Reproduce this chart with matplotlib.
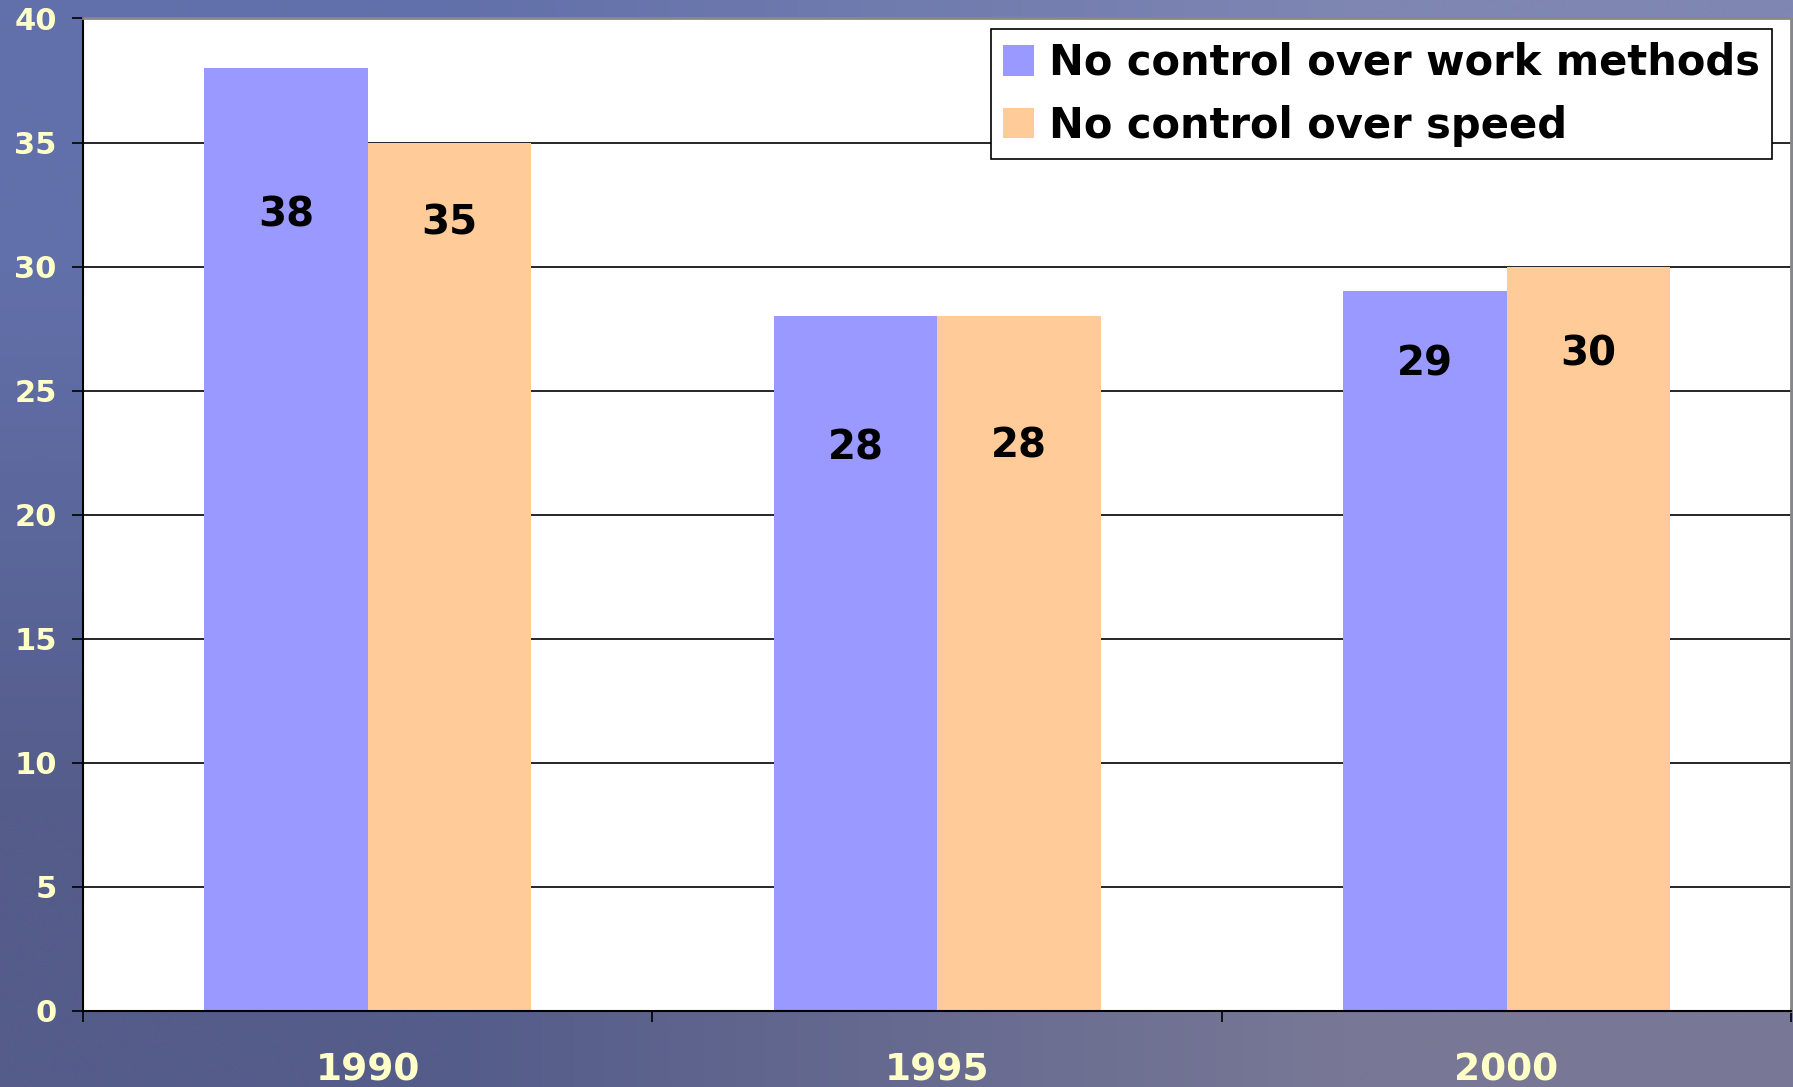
import numpy as np
import matplotlib
matplotlib.use("Agg")
import matplotlib.pyplot as plt

years = ["1990", "1995", "2000"]
work_methods = [38, 28, 29]
speed = [35, 28, 30]
series_names = ["No control over work methods", "No control over speed"]

# where the value labels sit below the bar top (they were dragged by hand in the original)
label_drop_methods = [5.95, 5.35, 2.95]
label_drop_speed = [3.25, 5.25, 3.55]

fig = plt.figure(figsize=(17.93, 10.87), dpi=100)

# textured blue background approximated by a corner gradient
bg = fig.add_axes([0, 0, 1, 1], zorder=0)
corners = np.array([[[98, 112, 170], [126, 134, 178]],
                    [[84, 92, 138], [120, 120, 150]]]) / 255.0
bg.imshow(corners, interpolation="bilinear", aspect="auto", extent=[0, 1, 0, 1])
bg.axis("off")

ax = fig.add_axes([0.0463, 0.070, 0.9527, 0.913], zorder=1)
ax.set_facecolor("white")

x = np.arange(len(years))
w = 0.287
ax.bar(x - w / 2, work_methods, w, color="#9999FF", label=series_names[0], zorder=2)
ax.bar(x + w / 2, speed, w, color="#FFCC99", label=series_names[1], zorder=2)

for xi, v, d in zip(x - w / 2, work_methods, label_drop_methods):
    ax.text(xi, v - d, str(v), ha="center", va="center", fontsize=29,
            fontweight="bold", color="black", zorder=3)
for xi, v, d in zip(x + w / 2, speed, label_drop_speed):
    ax.text(xi, v - d, str(v), ha="center", va="center", fontsize=29,
            fontweight="bold", color="black", zorder=3)

ax.set_xlim(-0.5, 2.5)
ax.set_ylim(0, 40)
ax.set_yticks(range(0, 41, 5))
ax.yaxis.grid(True, color="black", linewidth=1.2)
ax.set_axisbelow(True)

ax.set_xticks([-0.5, 0.5, 1.5, 2.5])
ax.set_xticklabels([])
ax.set_xticks(x, minor=True)
ax.set_xticklabels(years, minor=True)
ax.tick_params(axis="x", which="major", direction="out", length=8, width=1.2, color="black")
ax.tick_params(axis="x", which="minor", length=0, pad=30, labelsize=27,
               labelcolor="#FFFFC8")
ax.tick_params(axis="y", direction="out", length=8, width=1.2, color="black",
               pad=11, labelsize=22, labelcolor="#FFFFC8")
for lab in ax.get_xticklabels(minor=True) + ax.get_yticklabels():
    lab.set_fontweight("bold")

ax.spines["left"].set_color("black")
ax.spines["bottom"].set_color("black")
ax.spines["left"].set_linewidth(1.5)
ax.spines["bottom"].set_linewidth(1.5)
ax.spines["top"].set_color("#888888")
ax.spines["right"].set_color("#888888")
ax.spines["top"].set_linewidth(2)
ax.spines["right"].set_linewidth(2)

leg = ax.legend(loc="upper right", bbox_to_anchor=(0.989, 0.989), frameon=True,
                fancybox=False, edgecolor="black", framealpha=1,
                prop={"family": "DejaVu Sans", "weight": "bold", "size": 30},
                handlelength=0.75, handleheight=0.75, handletextpad=0.35,
                labelspacing=0.5, borderpad=0.3, borderaxespad=0)
leg.get_frame().set_linewidth(1.2)
leg.set_zorder(5)

fig.savefig("out.png", dpi=100)
